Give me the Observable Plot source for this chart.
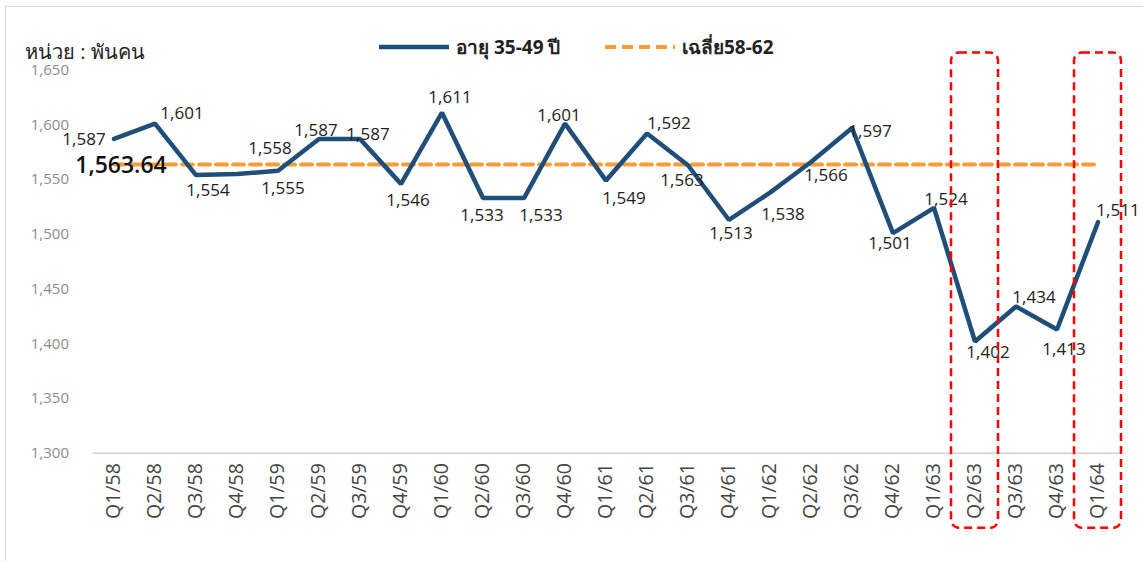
<!DOCTYPE html>
<html>
<head>
<meta charset="utf-8">
<script src="https://cdn.jsdelivr.net/npm/d3@7"></script>
<script src="https://cdn.jsdelivr.net/npm/@observablehq/plot@0.6"></script>
<style>
  html, body { margin: 0; padding: 0; background: #fff; }
  #wrap { position: relative; width: 1143px; height: 561px; overflow: hidden; font-family: "Open Sans", "Noto Sans", sans-serif; }
  #border { position: absolute; left: 5px; top: 6px; width: 1200px; height: 600px; border: 1.5px solid #d9d9d9; box-sizing: border-box; }
  #unit { position: absolute; left: 25px; top: 42px; font-size: 20px; line-height: 20px; color: #222; }
  .leg { position: absolute; top: 32px; font-size: 19px; font-weight: 700; color: #222; display: flex; align-items: center; }
  .leg svg { margin-right: 7px; }
  #chart { position: absolute; left: 0; top: 0; }
</style>
</head>
<body>
<div id="wrap">
  <div id="border"></div>
  <div id="chart"></div>
  <div id="unit">หน่วย : พันคน</div>
  <div class="leg" style="left:379px"><svg width="70" height="10"><line x1="0" y1="5" x2="70" y2="5" stroke="#1f4e79" stroke-width="4.5"/></svg>อายุ 35-49 ปี</div>
  <div class="leg" style="left:605px"><svg width="70" height="10"><line x1="0" y1="5" x2="70" y2="5" stroke="#f89c38" stroke-width="4" stroke-dasharray="11,6"/></svg>เฉลี่ย58-62</div>
</div>
<script>
const quarters = ["Q1/58","Q2/58","Q3/58","Q4/58","Q1/59","Q2/59","Q3/59","Q4/59","Q1/60","Q2/60","Q3/60","Q4/60","Q1/61","Q2/61","Q3/61","Q4/61","Q1/62","Q2/62","Q3/62","Q4/62","Q1/63","Q2/63","Q3/63","Q4/63","Q1/64"];
const workers = [1587,1601,1554,1555,1558,1587,1587,1546,1611,1533,1533,1601,1549,1592,1563,1513,1538,1566,1597,1501,1524,1402,1434,1413,1511];
const average = 1563.64;
const yTicks = [1300,1350,1400,1450,1500,1550,1600,1650];
const highlighted = ["Q2/63","Q1/64"];
// label offsets (layout only)
const labelDx = [-30,27,12,46,-8,-3,8,7,8,-1,17,-6,18,22,-6,2,13,15,18,-3,12,13,18,7,20];
const labelDy = [1,-10,15,15,-22,-8,-4,17,-15,17,17,-8,18,-10,15,14,22,14,4,10,-8,11,-9,20,-12];

const rows = quarters.map((q, i) => ({q, v: workers[i], dx: labelDx[i], dy: labelDy[i], i}));
const fmt = d3.format(",");

const plot = Plot.plot({
  width: 1143,
  height: 561,
  marginTop: 69.5,
  marginBottom: 108.3,
  marginLeft: 92.5,
  marginRight: 24.5,
  style: {fontFamily: '"Open Sans", "Noto Sans", sans-serif', background: "transparent", overflow: "visible"},
  x: {domain: quarters, padding: 0, label: null},
  y: {domain: [1300, 1650], label: null},
  marks: [
    Plot.axisY({ticks: yTicks, tickSize: 0, tickPadding: 24, tickFormat: fmt, fontSize: 15, fill: "#8c8c8c"}),
    Plot.axisX({tickSize: 0, tickPadding: 10, tickRotate: -90, fontSize: 19.5, fill: "#444"}),
    Plot.ruleY([1300], {stroke: "#d9d9d9", strokeWidth: 2, insetRight: -2}),
    Plot.lineY(rows, {x: "q", y: () => average, stroke: "#f89c38", strokeWidth: 4, strokeDasharray: "11,6"}),
    Plot.lineY(rows, {x: "q", y: "v", stroke: "#1f4e79", strokeWidth: 4.5, strokeLinejoin: "miter"}),
    ...rows.map(r => Plot.text([r], {x: "q", y: "v", text: d => fmt(d.v), dx: r.dx, dy: r.dy, fontSize: 17, fill: "#222"})),
    Plot.text([quarters[0]], {x: d => d, y: () => average, text: () => d3.format(",.2f")(average), dx: 7, dy: 1, fontSize: 23, fontWeight: 600, fill: "#111"}),
    Plot.cell(highlighted, {x: d => d, fill: "none", stroke: "#ff0000", strokeWidth: 2.5, strokeDasharray: "8,5", rx: 8, insetLeft: -3, insetRight: -3, insetTop: -17, insetBottom: -75})
  ]
});
document.getElementById("chart").appendChild(plot);
</script>
</body>
</html>
